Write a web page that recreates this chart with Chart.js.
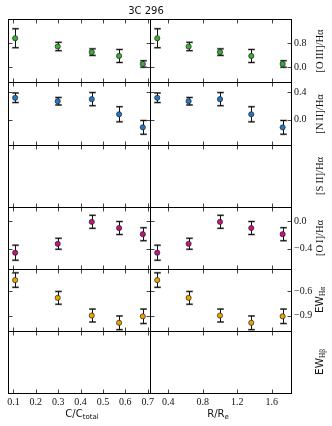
<!DOCTYPE html>
<html>
<head>
<meta charset="utf-8">
<script src="https://cdn.jsdelivr.net/npm/chart.js@4.4.0/dist/chart.umd.min.js"></script>
<style>
  body { margin: 0; background: #fff; }
  #wrap { position: relative; width: 332px; height: 426px; overflow: hidden; font-family: "DejaVu Sans", sans-serif; color: #111; }
  #wrap canvas { position: absolute; left: 0; top: 0; }
  .txt { position: absolute; white-space: nowrap; font-size: 10px; line-height: 10px; }
  .rot { transform: translate(-50%, -50%) rotate(-90deg); font-family: "Liberation Serif", serif; font-size: 10.5px; }
  .sub { font-size: 70%; position: relative; top: 0.3em; }
</style>
</head>
<body>
<div id="wrap"></div>
<script>
// radial bins, in two units
const binsC = [0.108, 0.298, 0.450, 0.572, 0.678];
const binsR = [0.272, 0.636, 1.000, 1.363, 1.727];

// line ratios (log) and errors
const oiii = [0.97, 0.69, 0.50, 0.37, 0.10];
const oiiiErr = [0.32, 0.14, 0.11, 0.22, 0.11];
const nii = [0.32, 0.27, 0.30, 0.08, -0.11];
const niiErr = [0.07, 0.055, 0.095, 0.11, 0.10];
const oi = [-0.46, -0.33, -0.01, -0.10, -0.19];
const oiErr = [0.11, 0.08, 0.095, 0.095, 0.095];
const ewHa = [-0.46, -0.68, -0.90, -0.99, -0.91];
const ewHaErr = [0.09, 0.08, 0.08, 0.085, 0.09];

// tick labels
const ticksC = [0.1, 0.2, 0.3, 0.4, 0.5, 0.6, 0.7];
const ticksR = [0.4, 0.8, 1.2, 1.6];
const ticksOiii = [0.0, 0.8];
const ticksNii = [0.0, 0.4];
const ticksOi = [-0.4, 0.0];
const ticksEwHa = [-0.9, -0.6];

const colEdges = [8, 150, 291];
const rowEdges = [19, 82, 145, 207, 269, 331, 393];

const rows = [
  { vals: oiii, err: oiiiErr, ticks: ticksOiii, min: -0.51, max: 1.62, color: "#3aad35", label: "[O&#8201;III]/H&alpha;" },
  { vals: nii, err: niiErr, ticks: ticksNii, min: -0.366, max: 0.549, color: "#2178c6", label: "[N&#8201;II]/H&alpha;" },
  { vals: null, err: null, ticks: [], min: 0, max: 1, color: "#000", label: "[S&#8201;II]/H&alpha;" },
  { vals: oi, err: oiErr, ticks: ticksOi, min: -0.698, max: 0.207, color: "#c0157f", label: "[O&#8201;I]/H&alpha;" },
  { vals: ewHa, err: ewHaErr, ticks: ticksEwHa, min: -1.092, max: -0.322, color: "#eea000", label: "EW<span class=\"sub\" style=\"font-family:'Liberation Serif',serif\">H&alpha;</span>", sans: true },
  { vals: null, err: null, ticks: [], min: 0, max: 1, color: "#000", label: "EW<span class=\"sub\" style=\"font-family:'Liberation Serif',serif\">H&beta;</span>", sans: true }
];

const cols = [
  { xs: binsC, ticks: ticksC, min: 0.076, max: 0.71 },
  { xs: binsR, ticks: ticksR, min: 0.188, max: 1.824 }
];

const fmt = (v) => v.toFixed(1).replace("-", "\u2212");
const tickFont = { family: "Liberation Serif", size: 10 };

const panelPlugin = {
  id: "panel",
  beforeDatasetsDraw(chart) {
    const ctx = chart.ctx;
    const x = chart.scales.x, y = chart.scales.y;
    ctx.save();
    chart.data.datasets.forEach((ds) => {
      ds.data.forEach((p) => {
        const px = Math.round(x.getPixelForValue(p.x)) + 0.5;
        const yLo = y.getPixelForValue(p.y - p.e);
        const yHi = y.getPixelForValue(p.y + p.e);
        // grey bar underneath
        ctx.strokeStyle = "rgba(120,120,120,0.75)";
        ctx.lineWidth = 2;
        ctx.beginPath();
        ctx.moveTo(px - 3.5, yLo); ctx.lineTo(px + 3.5, yLo);
        ctx.moveTo(px - 3.5, yHi); ctx.lineTo(px + 3.5, yHi);
        ctx.stroke();
        ctx.strokeStyle = "#111";
        ctx.lineWidth = 1;
        ctx.beginPath();
        ctx.moveTo(px, yLo); ctx.lineTo(px, yHi);
        ctx.moveTo(px - 3, yLo); ctx.lineTo(px + 3, yLo);
        ctx.moveTo(px - 3, yHi); ctx.lineTo(px + 3, yHi);
        ctx.stroke();
      });
    });
    ctx.restore();
  },
  afterDraw(chart) {
    const ctx = chart.ctx;
    const a = chart.chartArea;
    const x = chart.scales.x, y = chart.scales.y;
    const l = Math.round(a.left) + 0.5, r = Math.round(a.right) + 0.5;
    const t = Math.round(a.top) + 0.5, b = Math.round(a.bottom) + 0.5;
    ctx.save();
    ctx.strokeStyle = "#444";
    ctx.lineWidth = 1;
    ctx.beginPath();
    x.ticks.forEach((tk) => {
      const px = Math.round(x.getPixelForValue(tk.value)) + 0.5;
      ctx.moveTo(px, t); ctx.lineTo(px, t + 4);
      ctx.moveTo(px, b); ctx.lineTo(px, b - 4);
    });
    y.ticks.forEach((tk) => {
      const py = Math.round(y.getPixelForValue(tk.value)) + 0.5;
      ctx.moveTo(l, py); ctx.lineTo(l + 4, py);
      ctx.moveTo(r, py); ctx.lineTo(r - 4, py);
    });
    ctx.stroke();
    ctx.strokeStyle = "#000";
    ctx.strokeRect(l, t, r - l, b - t);
    ctx.restore();
  }
};

const wrap = document.getElementById("wrap");

rows.forEach((row, ri) => {
  cols.forEach((col, ci) => {
    const canvas = document.createElement("canvas");
    canvas.width = 332;
    canvas.height = 426;
    canvas.style.width = "332px";
    canvas.style.height = "426px";
    wrap.appendChild(canvas);

    const bottomRow = ri === rows.length - 1;
    const yLabels = ci === 1 && row.ticks.length > 0;
    const yW = yLabels ? 24 : 0;
    const xH = bottomRow ? 20 : 0;

    const datasets = [];
    if (row.vals) {
      datasets.push({
        data: col.xs.map((v, i) => ({ x: v, y: row.vals[i], e: row.err[i] })),
        backgroundColor: row.color,
        borderColor: "#222",
        borderWidth: 0.7,
        pointRadius: 2.6
      });
    }

    new Chart(canvas, {
      type: "scatter",
      data: { datasets: datasets },
      options: {
        responsive: false,
        animation: false,
        events: [],
        layout: {
          padding: {
            left: colEdges[ci],
            right: 332 - colEdges[ci + 1] - yW,
            top: rowEdges[ri],
            bottom: 426 - rowEdges[ri + 1] - xH
          }
        },
        plugins: { legend: { display: false }, tooltip: { enabled: false } },
        scales: {
          x: {
            type: "linear",
            position: "bottom",
            min: col.min,
            max: col.max,
            afterBuildTicks: (s) => { s.ticks = col.ticks.map((v) => ({ value: v })); },
            afterFit: (s) => { s.height = xH; },
            grid: { display: false, drawTicks: false, tickLength: 0 },
            border: { display: false },
            ticks: { display: bottomRow, padding: 3, autoSkip: false, maxRotation: 0, font: tickFont, color: "#111", callback: fmt }
          },
          y: {
            type: "linear",
            position: "right",
            min: row.min,
            max: row.max,
            afterBuildTicks: (s) => { s.ticks = row.ticks.map((v) => ({ value: v })); },
            afterFit: (s) => { s.width = yW; },
            grid: { display: false, drawTicks: false, tickLength: 0 },
            border: { display: false },
            ticks: { display: yLabels, padding: 3, autoSkip: false, font: tickFont, color: "#111", callback: fmt }
          }
        }
      },
      plugins: [panelPlugin]
    });
  });

  const lab = document.createElement("div");
  lab.className = "txt rot";
  if (row.sans) lab.style.fontFamily = "'DejaVu Sans', sans-serif";
  lab.style.left = "320px";
  lab.style.top = ((rowEdges[ri] + rowEdges[ri + 1]) / 2) + "px";
  lab.innerHTML = row.label;
  wrap.appendChild(lab);
});

function addText(html, cx, top) {
  const d = document.createElement("div");
  d.className = "txt";
  d.style.left = cx + "px";
  d.style.top = top + "px";
  d.style.transform = "translateX(-50%)";
  d.innerHTML = html;
  wrap.appendChild(d);
}
addText("3C 296", 146, 6);
addText("C/C<span class=\"sub\">total</span>", 82, 409);
addText("R/R<span class=\"sub\">e</span>", 218, 409);
</script>
</body>
</html>
